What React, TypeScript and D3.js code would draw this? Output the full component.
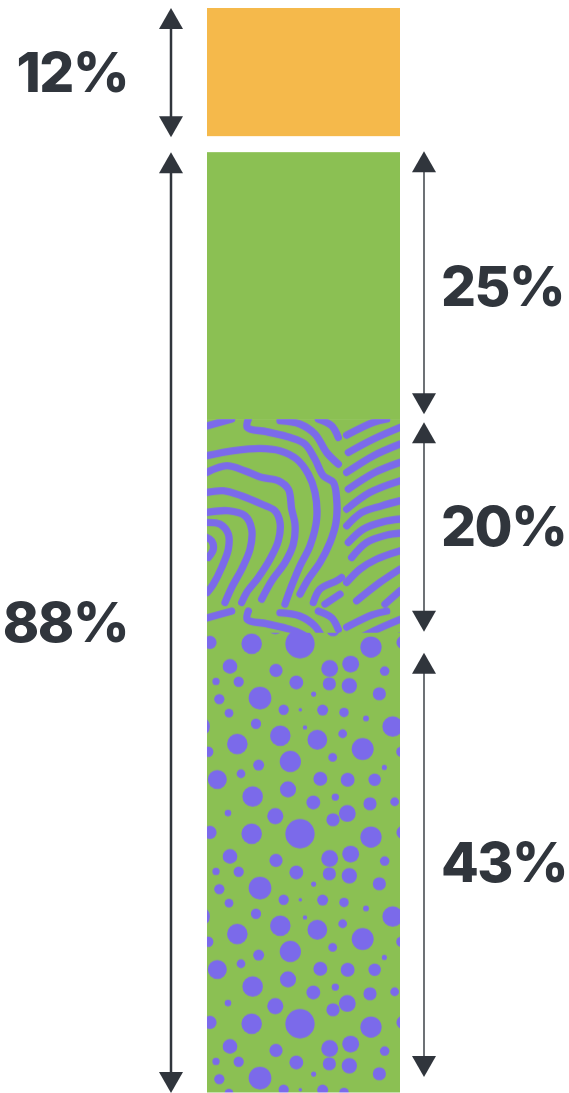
import * as d3 from 'd3'

// one stacked column: a 12% block on top, an 88% block split into three parts
const groups = ['12%', '88%']
const groupValues = [12, 88]
const parts = ['25%', '20%', '43%']
const partValues = [25, 20, 43]
const partFills = ['url(#solid)', 'url(#zebra)', 'url(#dots)']

const W = 569
const H = 1093
const barX = 207
const barW = 193
const top = 8
const gap = 16
const ink = '#30353c'
const orange = '#f5b94b'
const green = '#8bc053'
const purple = '#7b6aea'

// arrow insets for the right-hand arrows [top, bottom]
const partPads = [[-1, 5], [3, 1], [20, 15]]

// texture (zoom units: 3 per px)
const zebra: [number, number][][] = [
    [[20, 385], [35, 395], [40, 420], [25, 445]],
    [[20, 340], [60, 345], [85, 375], [85, 420], [65, 475], [40, 525], [22, 550]],
    [[20, 310], [85, 305], [135, 320], [155, 360], [150, 420], [125, 480], [95, 535], [75, 580]],
    [[20, 250], [70, 245], [125, 260], [185, 285], [225, 305], [240, 340], [235, 395], [210, 450], [175, 505], [140, 550], [125, 580]],
    [[20, 190], [80, 170], [135, 185], [185, 205], [235, 215], [265, 240], [275, 300], [285, 345], [280, 405], [255, 460], [215, 515], [185, 570]],
    [[20, 140], [100, 125], [180, 118], [240, 125], [290, 150], [325, 195], [345, 250], [350, 330], [330, 410], [300, 470], [275, 530], [255, 585]],
    [[145, 30], [142, 55], [200, 68], [270, 85], [315, 105], [345, 150], [370, 200], [400, 220], [410, 270], [408, 340], [390, 400], [360, 460], [325, 510], [300, 555]],
    [[22, 50], [95, 30]],
    [[240, 35], [300, 45], [345, 75], [380, 130], [415, 165]],
    [[355, 30], [395, 50], [415, 85]],
    [[440, 78], [520, 40], [560, 30]],
    [[445, 130], [520, 90], [600, 55]],
    [[440, 190], [520, 140], [600, 105]],
    [[445, 240], [525, 190], [600, 160]],
    [[440, 300], [510, 250], [600, 215]],
    [[440, 350], [485, 310], [545, 290], [600, 275]],
    [[445, 400], [490, 360], [550, 338], [600, 330]],
    [[455, 445], [500, 400], [560, 378], [600, 372]],
    [[440, 520], [480, 480], [530, 450], [600, 425]],
    [[470, 575], [540, 520], [600, 480]],
    [[555, 585], [600, 545]],
    [[340, 580], [360, 540], [410, 515], [425, 505]],
    [[375, 585], [420, 555]],
]

const dots: [number, number, number][] = [
    [30, 38, 18], [155, 42, 28], [300, 42, 40], [513, 52, 29], [90, 110, 20], [228, 122, 18],
    [389, 116, 23], [452, 103, 23], [554, 124, 13], [48, 155, 10], [116, 156, 14], [289, 158, 19],
    [388, 162, 18], [448, 168, 21], [538, 192, 18], [58, 208, 14], [180, 205, 31], [341, 193, 7],
    [87, 250, 12], [251, 240, 14], [301, 240, 5], [368, 241, 15], [432, 248, 13], [498, 266, 8],
    [168, 282, 14], [578, 290, 28], [315, 293, 6], [241, 318, 28], [352, 330, 27], [428, 312, 12],
    [112, 343, 28], [488, 358, 30], [25, 366, 14], [398, 383, 12], [271, 395, 29], [176, 406, 15],
    [553, 413, 7], [123, 432, 12], [52, 449, 26], [361, 447, 19], [443, 450, 19], [524, 450, 17],
    [264, 479, 22], [158, 500, 28], [406, 502, 10], [340, 518, 19], [510, 522, 18], [584, 516, 12],
    [84, 550, 9], [442, 551, 23], [226, 559, 22], [399, 570, 18],
]

const Arrow = ({ x, y0, y1, sw }: { x: number, y0: number, y1: number, sw: number }) => {
    const hw = 12
    const hh = 21
    return (
        <g fill={ink}>
            <line x1={x} x2={x} y1={y0 + hh - 2} y2={y1 - hh + 2} stroke={ink} strokeWidth={sw} />
            <path d={`M${x},${y0}L${x + hw},${y0 + hh}L${x - hw},${y0 + hh}Z`} />
            <path d={`M${x},${y1}L${x + hw},${y1 - hh}L${x - hw},${y1 - hh}Z`} />
        </g>
    )
}

export default function App() {
    const pxPerPct = (H - 1 - top - gap) / d3.sum(groupValues)
    const y = d3.scaleLinear().domain([0, 100]).range([0, pxPerPct * 100])

    // top block, then the lower block after a gap
    const groupRows = groups.map((g, i) => {
        const y0 = top + y(d3.sum(groupValues.slice(0, i))) + (i > 0 ? gap : 0)
        return { label: g, y0, y1: y0 + y(groupValues[i]) }
    })
    const lower = groupRows[1]
    const partRows = parts.map((p, i) => {
        const y0 = lower.y0 + y(d3.sum(partValues.slice(0, i)))
        return { label: p, y0, y1: y0 + y(partValues[i]), fill: partFills[i] }
    })

    const line = d3.line().curve(d3.curveCatmullRom)
    const zebraTile = 192
    const dotTile = 190

    const font = {
        fontFamily: 'Inter, "Noto Sans", sans-serif',
        fontWeight: 800,
        fontSize: 55,
        letterSpacing: -1.5,
        fill: ink,
    }

    return (
        <svg width={W} height={H} style={{ position: 'absolute', left: 0, top: 0 }}>
            <defs>
                <pattern id="solid" patternUnits="userSpaceOnUse" width={10} height={10}>
                    <rect width={10} height={10} fill={green} />
                </pattern>
                <pattern id="zebra" patternUnits="userSpaceOnUse" x={barX} y={partRows[1].y0} width={barW} height={zebraTile}>
                    <rect width={barW} height={zebraTile} fill={green} />
                    {[-1, 0, 1].map(k => (
                        <g key={k} transform={`translate(-7,${-10 + k * zebraTile}) scale(${1 / 3})`}>
                            {zebra.map((pts, i) => (
                                <path key={i} d={line(pts) || ''} fill="none" stroke={purple} strokeWidth={22} strokeLinecap="round" />
                            ))}
                        </g>
                    ))}
                </pattern>
                <pattern id="dots" patternUnits="userSpaceOnUse" x={barX} y={partRows[2].y0} width={barW} height={dotTile}>
                    <rect width={barW} height={dotTile} fill={green} />
                    {[-1, 0, 1].flatMap(ky => [-1, 0, 1].map(kx => (
                        <g key={`${kx}${ky}`} transform={`translate(${-7 + kx * barW},${-3 + ky * dotTile}) scale(${1 / 3})`}>
                            {dots.map(([cx, cy, r], i) => (
                                <circle key={i} cx={cx} cy={cy} r={r * 1.1} fill={purple} />
                            ))}
                        </g>
                    )))}
                </pattern>
            </defs>

            <rect x={barX} y={groupRows[0].y0} width={barW} height={groupRows[0].y1 - groupRows[0].y0} fill={orange} />
            {partRows.map(p => (
                <rect key={p.label} x={barX} y={p.y0} width={barW} height={p.y1 - p.y0 + 0.5} fill={p.fill} />
            ))}

            {groupRows.map(g => (
                <g key={g.label}>
                    <Arrow x={171} y0={g.y0} y1={g.y1 + 1} sw={2.5} />
                    <text x={128} y={(g.y0 + g.y1) / 2 + 20} textAnchor="end" {...font}>{g.label}</text>
                </g>
            ))}
            {partRows.map((p, i) => (
                <g key={p.label}>
                    <Arrow x={424} y0={p.y0 + partPads[i][0]} y1={p.y1 - partPads[i][1]} sw={1.4} />
                    <text x={441} y={(p.y0 + p.y1) / 2 + 20} {...font}>{p.label}</text>
                </g>
            ))}
        </svg>
    )
}
